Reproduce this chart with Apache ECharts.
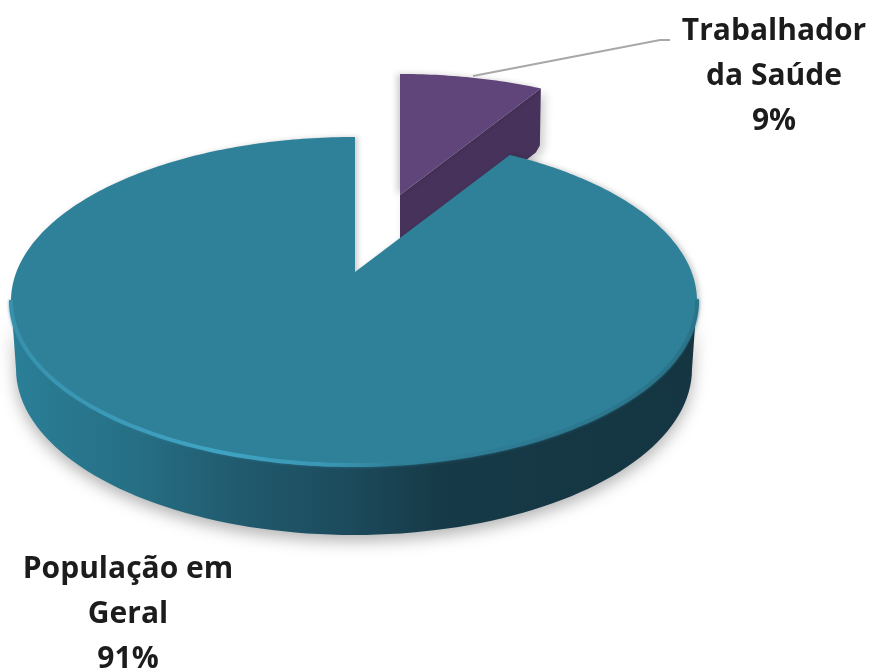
<!DOCTYPE html>
<html>
<head>
<meta charset="utf-8">
<style>
  html, body { margin: 0; padding: 0; background: #fff; }
  #chart { width: 870px; height: 671px; }
</style>
</head>
<body>
<div id="chart"></div>
<script src="https://cdn.jsdelivr.net/npm/echarts@6/dist/echarts.min.js"></script>
<script>
// dados do grafico
const categories = ['Trabalhador\nda Saúde', 'População em\nGeral'];
const values = [9, 91];

// forma de cada fatia (perspectiva na mao, echarts nao tem pizza 3d)
const shapes = [
  { apex: [400, 195], c: [400, 235], rx: 340, ry: 161, depth: 57, top: '#5f4579', cut: '#46325a' },
  { apex: [355, 272], c: [354, 301], rx: 343, ry: 164, depth: 68, top: '#2f8099' }
];
const squash = 0.48;

const labels = [
  { x: 774, y: 76, line: [[473, 76], [660, 40], [670, 40]] },
  { x: 128, y: 614 }
];

const total = values.reduce((a, b) => a + b, 0);

// onde o raio que sai do apice encontra a elipse
function rimPoint(s, deg) {
  const a = deg * Math.PI / 180;
  const dx = Math.sin(a), dy = -Math.cos(a) * squash;
  const ox = (s.apex[0] - s.c[0]) / s.rx, oy = (s.apex[1] - s.c[1]) / s.ry;
  const ux = dx / s.rx, uy = dy / s.ry;
  const A = ux * ux + uy * uy, B = 2 * (ox * ux + oy * uy), C = ox * ox + oy * oy - 1;
  const t = (-B + Math.sqrt(B * B - 4 * A * C)) / (2 * A);
  return [s.apex[0] + dx * t, s.apex[1] + dy * t];
}

function renderItem(params, api) {
  const i = params.dataIndex;
  const s = shapes[i];
  let start = 0;
  for (let k = 0; k < i; k++) start += values[k];
  const from = start / total * 360;
  const to = (start + api.value(1)) / total * 360;

  const arc = [];
  for (let d = from; d < to; d += 1) arc.push(rimPoint(s, d));
  arc.push(rimPoint(s, to));
  const children = [];

  if (i === 0) {
    // fatia roxa: so aparece a face do corte
    const p = arc[arc.length - 1];
    children.push({
      type: 'polygon',
      shape: {
        points: [s.apex, p, [p[0] - 1, p[1] + s.depth], [p[0] - 5, p[1] + s.depth + 7], [p[0] - 14, p[1] + s.depth + 14], [s.apex[0], s.apex[1] + s.depth + 45]]
      },
      style: { fill: s.cut, shadowBlur: 10, shadowColor: 'rgba(0,0,0,0.2)', shadowOffsetX: 4, shadowOffsetY: 3 }
    });
    children.push({
      type: 'polygon',
      shape: { points: [s.apex].concat(arc) },
      style: { fill: s.top, shadowBlur: 6, shadowColor: 'rgba(0,0,0,0.2)', shadowOffsetX: -3 }
    });
  } else {
    // parede da frente
    const front = arc.filter(p => p[1] >= s.c[1] - 4);
    const bottom = [];
    for (let d = 180; d >= 0; d -= 2) {
      const a = d * Math.PI / 180;
      bottom.push([s.c[0] + (s.rx - 5) * Math.cos(a), s.c[1] + s.depth + (s.ry + 2) * Math.sin(a)]);
    }
    const wall = new echarts.graphic.LinearGradient(11, 0, 697, 0, [
      { offset: 0, color: '#2a7f97' },
      { offset: 0.18, color: '#266f85' },
      { offset: 0.34, color: '#21596d' },
      { offset: 0.5, color: '#1b4a5b' },
      { offset: 0.62, color: '#173a48' },
      { offset: 1, color: '#143541' }
    ], true);
    children.push({
      type: 'polygon',
      shape: { points: front.concat(bottom) },
      style: { fill: wall, shadowBlur: 16, shadowColor: 'rgba(0,0,0,0.3)', shadowOffsetY: 6 }
    });
    children.push({
      type: 'polygon',
      shape: { points: [s.apex].concat(arc) },
      style: { fill: s.top, shadowBlur: 5, shadowColor: 'rgba(0,0,0,0.18)', shadowOffsetX: 3 }
    });
    // brilho na borda esquerda
    const rim = new echarts.graphic.LinearGradient(11, 0, 697, 0, [
      { offset: 0, color: '#3791ad' },
      { offset: 0.3, color: '#3fa4c3' },
      { offset: 0.46, color: '#3a97b4' },
      { offset: 0.56, color: '#2f8099' },
      { offset: 1, color: '#2a7389' }
    ], true);
    children.push({
      type: 'polyline',
      shape: { points: front },
      style: { fill: 'none', stroke: rim, lineWidth: 4, shadowBlur: 3, shadowColor: 'rgba(47,128,153,0.8)' }
    });
  }

  const lab = labels[i];
  if (lab.line) {
    children.push({
      type: 'polyline',
      shape: { points: lab.line },
      style: { fill: 'none', stroke: '#a8a8a8', lineWidth: 2 }
    });
  }
  children.push({
    type: 'text',
    x: lab.x,
    y: lab.y,
    style: {
      text: categories[i] + '\n' + Math.round(api.value(1) / total * 100) + '%',
      fill: '#1c1c1c',
      font: 'bold 30px "Open Sans", sans-serif',
      align: 'center',
      verticalAlign: 'middle',
      lineHeight: 45
    }
  });
  return { type: 'group', children: children };
}

const myChart = echarts.init(document.getElementById('chart'), null, { renderer: 'canvas' });
myChart.setOption({
  animation: false,
  backgroundColor: '#fff',
  series: [{
    type: 'custom',
    coordinateSystem: 'none',
    renderItem: renderItem,
    data: values.map((v, i) => [i, v])
  }]
});
</script>
</body>
</html>
